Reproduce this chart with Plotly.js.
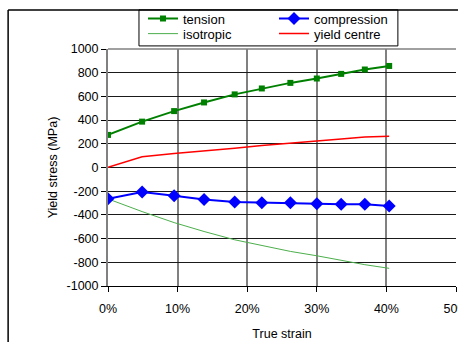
<!DOCTYPE html>
<html>
<head>
<meta charset="utf-8">
<script src="https://cdn.plot.ly/plotly-3.0.1.min.js"></script>
<style>
html,body{margin:0;padding:0;background:#fff;}
#chart{width:458px;height:342px;}
</style>
</head>
<body>
<div id="chart"></div>
<script>
// Data
const strain = [0, 0.049, 0.095, 0.138, 0.182, 0.221, 0.262, 0.300, 0.335, 0.369, 0.404];
const tension = [275, 387, 476, 549, 617, 667, 714, 751, 790, 827, 857];
const compression = [-263, -207, -238, -271, -291, -297, -297, -305, -311, -311, -325];
const isotropic = [-265, -372, -465, -540, -610, -660, -708, -745, -785, -820, -851];
const yieldCentre = [2, 90, 119, 139, 163, 185, 208, 223, 240, 258, 264];
const yTickVals = [1000, 800, 600, 400, 200, 0, -200, -400, -600, -800, -1000];
const yTickText = ["1000", "800", "600", "400", "200", "0", "-200", "-400", "-600", "-800", "-1000"];
const xTickVals = [0, 0.1, 0.2, 0.3, 0.4, 0.5];
const xTickText = ["0%", "10%", "20%", "30%", "40%", "50%"];

const font = {family: "Liberation Sans, Arial, sans-serif", size: 12.5, color: "#000"};
const legFont = {family: "Liberation Sans, Arial, sans-serif", size: 13, color: "#000"};

const traces = [
  {x: strain, y: tension, name: "tension", mode: "lines+markers", legend: "legend",
   line: {color: "#008000", width: 2}, marker: {symbol: "square", size: 6, color: "#008000"}},
  {x: strain, y: isotropic, name: "isotropic", mode: "lines", legend: "legend2",
   line: {color: "#4caf4c", width: 1}},
  {x: strain, y: compression, name: "compression", mode: "lines+markers", legend: "legend3",
   line: {color: "#0000ff", width: 2}, marker: {symbol: "diamond", size: 10, color: "#0000ff"}},
  {x: strain, y: yieldCentre, name: "yield centre", mode: "lines", legend: "legend4",
   line: {color: "#ff0000", width: 1.5}}
];

function leg(x, y) {
  return {
    x: x, y: y, font: legFont, bgcolor: "rgba(0,0,0,0)", borderwidth: 0,
    orientation: "v", xanchor: "left", yanchor: "top",
    itemwidth: 30, tracegroupgap: 0
  };
}

const layout = {
  width: 458, height: 342,
  margin: {l: 108, r: 2, t: 49, b: 56},
  paper_bgcolor: "#fff", plot_bgcolor: "#fff",
  font: font,
  showlegend: true,
  legend: leg(0.1006, 1.192),
  legend2: leg(0.1006, 1.128),
  legend3: leg(0.477, 1.192),
  legend4: leg(0.477, 1.128),
  xaxis: {
    range: [0, 0.5], tickvals: xTickVals, ticktext: xTickText,
    showgrid: true, gridcolor: "#808080", gridwidth: 2,
    showline: true, linecolor: "#000", linewidth: 1,
    ticks: "outside", ticklen: 5, tickcolor: "#000",
    ticklabelstandoff: 6, ticklabeloverflow: "allow",
    zeroline: false, tickfont: font,
    title: {text: "True strain", font: font, standoff: 14}
  },
  yaxis: {
    range: [-1000, 1000], tickvals: yTickVals, ticktext: yTickText,
    showgrid: true, gridcolor: "#1a1a1a", gridwidth: 1,
    showline: true, linecolor: "#808080", linewidth: 2,
    ticks: "outside", ticklen: 5, tickcolor: "#000",
    zeroline: false, tickfont: font,
    title: {text: "Yield stress (MPa)", font: font, standoff: 6}
  },
  shapes: [
    // outer chart frame (left and top edges visible)
    {type: "line", xref: "paper", yref: "paper", x0: -0.287, x1: 1.2, y0: 1.165, y1: 1.165,
     line: {color: "#000", width: 1.5}},
    {type: "line", xref: "paper", yref: "paper", x0: -0.287, x1: -0.287, y0: 1.165, y1: -0.3,
     line: {color: "#000", width: 1.5}},
    // legend box
    {type: "rect", xref: "paper", yref: "paper", x0: 0.089, x1: 0.833, y0: 1.013, y1: 1.165,
     line: {color: "#000", width: 1}, fillcolor: "rgba(0,0,0,0)"},
    // plot area top border
    {type: "line", xref: "paper", yref: "paper", x0: 0, x1: 1, y0: 1, y1: 1,
     line: {color: "#808080", width: 1.5}}
  ]
};

Plotly.newPlot("chart", traces, layout, {displayModeBar: false, staticPlot: true});
</script>
</body>
</html>
